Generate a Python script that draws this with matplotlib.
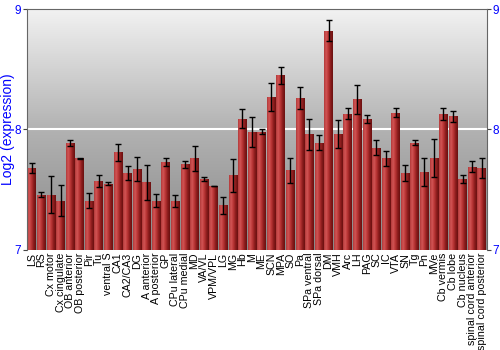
import numpy as np
import matplotlib
matplotlib.use('Agg')
import matplotlib.pyplot as plt
from matplotlib.colors import LinearSegmentedColormap

plt.rcParams['font.family'] = ['Liberation Sans', 'DejaVu Sans']

# ---------- DATA ----------
regions = [
    "LS", "RS", "Cx motor", "Cx cingulate", "OB anterior", "OB posterior",
    "Pir", "Tu", "ventral S", "CA1", "CA2/CA3", "DG", "A anterior",
    "A posterior", "GP", "CPu lateral", "CPu medial", "MD", "VA/VL",
    "VPM/VPL", "LG", "MG", "Hb", "M", "ME", "SCN", "MPA", "SO", "Pa",
    "SPa ventral", "SPa dorsal", "DM", "VMH", "Arc", "LH", "PAG", "SC",
    "IC", "VTA", "SN", "Tg", "Pn", "MVe", "Cb vermis", "Cb lobe",
    "Cb nucleus", "spinal cord anterior", "spinal cord posterior",
]
expression = [
    7.68, 7.46, 7.46, 7.41, 7.89, 7.76,
    7.41, 7.57, 7.55, 7.81, 7.64, 7.67, 7.56,
    7.41, 7.73, 7.41, 7.71, 7.76, 7.59,
    7.53, 7.37, 7.62, 8.09, 7.98, 7.98, 8.27, 8.45, 7.66, 8.26,
    7.96, 7.89, 8.82, 7.96, 8.13, 8.25, 8.09, 7.85,
    7.76, 8.14, 7.64, 7.89, 7.65, 7.76, 8.13, 8.11,
    7.59, 7.69, 7.68,
]
errors = [
    0.044, 0.023, 0.15, 0.13, 0.023, 0.003,
    0.06, 0.048, 0.012, 0.07, 0.06, 0.10, 0.146,
    0.055, 0.033, 0.05, 0.03, 0.106, 0.015,
    0.003, 0.07, 0.135, 0.08, 0.127, 0.02, 0.113, 0.07, 0.107, 0.093,
    0.13, 0.063, 0.088, 0.115, 0.046, 0.12, 0.032, 0.062,
    0.065, 0.04, 0.065, 0.022, 0.116, 0.157, 0.052, 0.046,
    0.032, 0.047, 0.08,
]
y_floor = 7
y_top = 9

blue = "#0000ff"

# ---------- FIGURE ----------
fig = plt.figure(figsize=(5, 3.5), dpi=100)
ax = fig.add_axes([0.054, 0.286, 0.919, 0.688])

x = np.arange(len(regions))
x_lo, x_hi = -0.5, len(regions) - 0.5

# background gradient
bg_cmap = LinearSegmentedColormap.from_list("bg", ["#888888", "#b2b2b2", "#f2f2f2"])
ax.imshow(np.linspace(0, 1, 256).reshape(-1, 1), cmap=bg_cmap, origin="lower",
          extent=[x_lo, x_hi, y_floor, y_top], aspect="auto", zorder=0)

ax.axhline(8, color="white", lw=1.5, zorder=1)

# bars with horizontal shading (bars start at the axis floor)
heights = np.array(expression) - y_floor
bars = ax.bar(x, heights, width=0.9, bottom=y_floor, color="#b03030",
              edgecolor="none", zorder=2)
bar_cmap = LinearSegmentedColormap.from_list(
    "bar", ["#b23a3a", "#d25555", "#b83434", "#8a1c1c", "#6a1010"])
shade = np.linspace(0, 1, 64).reshape(1, -1)
for patch in bars:
    bx, by = patch.get_x(), patch.get_y()
    im = ax.imshow(shade, cmap=bar_cmap, aspect="auto", zorder=2.5,
                   extent=[bx, bx + patch.get_width(), by, by + patch.get_height()])
    im.set_clip_path(patch)

ax.errorbar(x, expression, yerr=errors, fmt="none", ecolor="black",
            elinewidth=1, capsize=2.5, capthick=1, zorder=3)

ax.set_xlim(x_lo, x_hi)
ax.set_ylim(y_floor, y_top)

# ---------- AXES STYLE ----------
ax.set_xticks(x)
ax.set_xticklabels(regions, rotation=90, fontsize=7.7)
ax.tick_params(axis="x", length=0, pad=2)

ax.set_yticks([7, 8, 9])
ax.tick_params(axis="y", labelcolor=blue, labelsize=8.5, length=3,
               left=True, right=True, labelright=True, color="#444444", pad=1.5)
ax.set_ylabel("Log2 (expression)", color=blue, fontsize=10)
ax.yaxis.set_label_coords(-0.027, 0.5)

for side in ["top", "left", "right"]:
    ax.spines[side].set_color("#666666")
ax.spines["bottom"].set_visible(False)

fig.savefig("out.png", dpi=100)
